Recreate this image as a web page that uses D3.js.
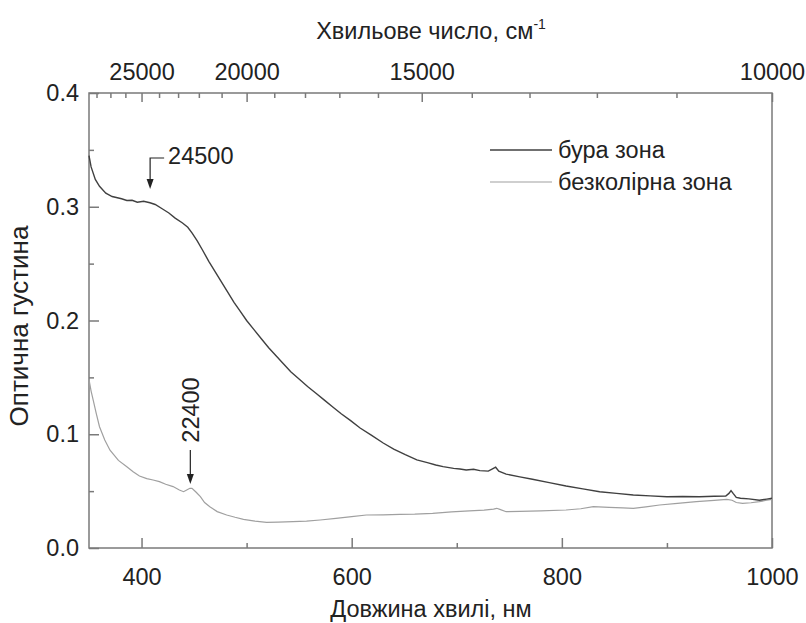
<!DOCTYPE html>
<html><head><meta charset="utf-8">
<script src="https://cdn.jsdelivr.net/npm/d3@7"></script>
<style>
body{margin:0;background:#fff;}
text{font-family:"Liberation Sans",Arial,sans-serif;fill:#222;}
</style></head>
<body><svg id="c" width="806" height="623"></svg>
<script>
const wl1 = [350,352,356,360,366,372,381,386,391,396,402,408,413,420,426,432,439,444,448,453,458,464,470,476,482,488,494,500,507,514,521,528,535,542,551,558,566,574,582,590,599,608,619,630,640,651,662,672,680,687,697,703,709,716,722,730,734,737,740,747,760,772,788,804,820,836,852,868,884,900,915,931,945,956,959,961,963,966,970,978,988,995,1000];
const od1 = [0.345,0.335,0.324,0.318,0.312,0.309,0.307,0.3055,0.3057,0.304,0.3048,0.3035,0.302,0.298,0.2945,0.290,0.2857,0.282,0.277,0.270,0.262,0.252,0.243,0.234,0.225,0.216,0.208,0.200,0.192,0.184,0.176,0.169,0.162,0.155,0.1477,0.142,0.136,0.130,0.124,0.118,0.112,0.1055,0.099,0.0923,0.087,0.082,0.0774,0.075,0.073,0.0715,0.070,0.0695,0.0686,0.0692,0.068,0.0676,0.0695,0.071,0.0675,0.065,0.0625,0.0604,0.0575,0.0545,0.052,0.0495,0.048,0.0466,0.0458,0.0451,0.0453,0.0451,0.0455,0.0457,0.048,0.0505,0.048,0.0445,0.0437,0.0432,0.042,0.043,0.0437];
const wl2 = [350,352,354,357,360,365,370,378,386,392,398,405,411,417,423,430,436,440,443,446,448,452,456,460,465,472,481,489,497,508,519,530,544,557,570,585,600,614,630,646,660,677,695,712,726,735,738,741,747,760,780,804,818,830,845,858,868,880,893,910,928,945,957,962,966,972,980,988,995,1000];
const od2 = [0.148,0.138,0.130,0.118,0.1066,0.095,0.086,0.077,0.0715,0.067,0.0633,0.061,0.0598,0.0583,0.056,0.054,0.051,0.0495,0.051,0.0525,0.0525,0.049,0.0451,0.040,0.0363,0.032,0.029,0.027,0.0252,0.0237,0.0226,0.0228,0.0231,0.0236,0.0246,0.026,0.0275,0.029,0.0292,0.0296,0.0298,0.0305,0.0318,0.0326,0.0333,0.0342,0.0349,0.034,0.0319,0.0322,0.0326,0.0334,0.0345,0.0363,0.0358,0.0352,0.0349,0.0362,0.0378,0.0392,0.0407,0.0418,0.0428,0.042,0.040,0.0393,0.0398,0.0407,0.042,0.0428];
const seriesNames = ["бура зона","безколірна зона"];
const xMajor = [400,600,800,1000];
const xMinor = [500,700,900];
const yMajor = [0.0,0.1,0.2,0.3,0.4];
const yMinor = [0.05,0.15,0.25,0.35];
const wnMajor = [25000,20000,15000,10000];
const wnMinor = [28000,27000,26000,24000,23000,22000,21000,19000,18000,17000,16000,14000,13000,12000,11000];
const peaks = [24500,22400];

const FS = "23.5px";
const svg = d3.select("#c");
const L=89,R=772,T=93,B=548;
const x = d3.scaleLinear().domain([350,1000]).range([L,R]);
const y = d3.scaleLinear().domain([0,0.4]).range([B,T]);
const axisCol="#7a7a7a";

function styleAxis(g){
  g.select(".domain").remove();
  g.selectAll(".tick line").attr("stroke",axisCol).attr("stroke-width",1.5);
  g.selectAll(".tick text").style("font-size",FS).attr("fill","#222");
}
const gb = svg.append("g").attr("transform",`translate(0,${B})`)
  .call(d3.axisBottom(x).tickValues(xMajor).tickSize(-10).tickPadding(20).tickFormat(d3.format("d")));
styleAxis(gb);
const gbm = svg.append("g").attr("transform",`translate(0,${B})`)
  .call(d3.axisBottom(x).tickValues(xMinor).tickSize(-5).tickFormat(""));
styleAxis(gbm);
const gl = svg.append("g").attr("transform",`translate(${L},0)`)
  .call(d3.axisLeft(y).tickValues(yMajor).tickSize(-10).tickPadding(10).tickFormat(d3.format(".1f")));
styleAxis(gl);
const glm = svg.append("g").attr("transform",`translate(${L},0)`)
  .call(d3.axisLeft(y).tickValues(yMinor).tickSize(-5).tickFormat(""));
styleAxis(glm);
const gt = svg.append("g").attr("transform",`translate(0,${T})`)
  .call(d3.axisTop(x).tickValues(wnMajor.map(w=>1e7/w)).tickSize(-9).tickPadding(13).tickFormat(d=>String(Math.round(1e7/d))));
styleAxis(gt);
const gtm = svg.append("g").attr("transform",`translate(0,${T})`)
  .call(d3.axisTop(x).tickValues(wnMinor.map(w=>1e7/w)).tickSize(-5).tickFormat(""));
styleAxis(gtm);
svg.append("rect").attr("x",L).attr("y",T).attr("width",R-L).attr("height",B-T)
  .attr("fill","none").attr("stroke",axisCol).attr("stroke-width",1.5);

const line = d3.line().x(d=>x(d[0])).y(d=>y(d[1]));
svg.append("path").datum(wl2.map((w,i)=>[w,od2[i]])).attr("d",line)
  .attr("fill","none").attr("stroke","#a0a0a0").attr("stroke-width",1.2);
svg.append("path").datum(wl1.map((w,i)=>[w,od1[i]])).attr("d",line)
  .attr("fill","none").attr("stroke","#404040").attr("stroke-width",1.4);

const ax1 = x(1e7/peaks[0]);
svg.append("path").attr("d",`M${ax1+14},158 H${ax1} V181`).attr("fill","none").attr("stroke","#222").attr("stroke-width",1.2);
svg.append("path").attr("d",`M${ax1-3.5},179 L${ax1+3.5},179 L${ax1},189 Z`).attr("fill","#222");
svg.append("text").attr("x",ax1+18).attr("y",164).style("font-size",FS).text(String(peaks[0]));
const ax2 = x(1e7/peaks[1]);
svg.append("line").attr("x1",ax2).attr("x2",ax2).attr("y1",450).attr("y2",476).attr("stroke","#222").attr("stroke-width",1.2);
svg.append("path").attr("d",`M${ax2-3.5},474 L${ax2+3.5},474 L${ax2},484 Z`).attr("fill","#222");
svg.append("text").attr("transform",`translate(${ax2+8.5},410) rotate(-90)`).attr("text-anchor","middle")
  .style("font-size",FS).text(String(peaks[1]));

const lg = svg.append("g");
[[150,"#404040",1.4],[182,"#a0a0a0",1.2]].forEach((s,i)=>{
  lg.append("line").attr("x1",490).attr("x2",552).attr("y1",s[0]).attr("y2",s[0]).attr("stroke",s[1]).attr("stroke-width",s[2]);
  lg.append("text").attr("x",558).attr("y",s[0]+8).style("font-size",FS).text(seriesNames[i]);
});

svg.append("text").attr("x",431).attr("y",617).attr("text-anchor","middle").style("font-size",FS).text("Довжина хвилі, нм");
svg.append("text").attr("transform","translate(28,326) rotate(-90)").attr("text-anchor","middle").style("font-size","26px").text("Оптична густина");
const tt = svg.append("text").attr("x",431).attr("y",39).attr("text-anchor","middle").style("font-size",FS);
tt.append("tspan").text("Хвильове число, см");
tt.append("tspan").attr("dy",-10).style("font-size","14px").text("-1");
</script></body></html>
